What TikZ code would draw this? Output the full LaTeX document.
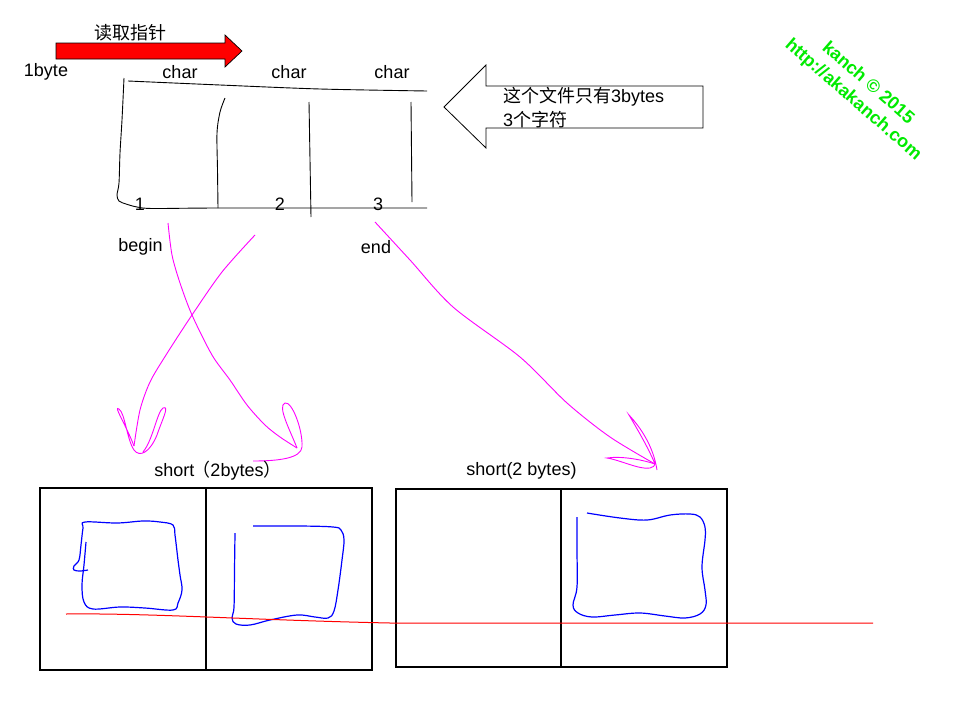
\documentclass[tikz,border=0pt]{standalone}
\usepackage{fontspec}
\setmainfont{Liberation Sans}
\newfontfamily\cjk{Noto Sans CJK SC}
\definecolor{mag}{RGB}{255,0,255}
\definecolor{wgreen}{RGB}{0,235,0}
\definecolor{bblue}{RGB}{0,0,255}
\begin{document}
\begin{tikzpicture}[x=1pt,y=-1pt,
  lbl/.style={inner sep=0pt, font=\fontsize{18}{21}\selectfont},
  hand/.style={line width=0.9pt, black},
  pink/.style={line width=0.9pt, mag},
  blob/.style={line width=1.2pt, bblue},
  cellbox/.style={line width=1.2pt, black},
  wm/.style={inner sep=0pt, text=wgreen, rotate=-41, font=\fontsize{18}{21}\selectfont\bfseries}]
\useasboundingbox (0,0) rectangle (960,720);
\fill[white] (0,0) rectangle (960,720);

% red arrow
\draw[fill=red, line width=0.7pt] (56,43) -- (225,43) -- (225,35) -- (242,51) -- (225,67) -- (225,59) -- (56,59) -- cycle;
\node[lbl] (read) at (130,33) {\cjk 读取指针};

% labels
\node[lbl] (byte) at (46,72) {1byte};
\node[lbl] (c1) at (180,72) {char};
\node[lbl] (c2) at (289,72) {char};
\node[lbl] (c3) at (392,72) {char};

% hand drawn table
\draw[hand] plot[smooth] coordinates {(124,78) (122,120) (120,153) (119,183) (117,195) (119,201) (126,204) (137,207) (153,208.5) (220,208) (427,208)};
\draw[hand] plot[smooth] coordinates {(128,81) (220,85) (320,89) (427,91)};
\draw[hand] plot[smooth] coordinates {(225,98) (220,112) (217,133) (217.5,170) (218,208)};
\draw[hand] (309,102) -- (311,217);
\draw[hand] (411,102) -- (412,202);

\node[lbl] (n1) at (140,204) {1};
\node[lbl] (n2) at (280,204) {2};
\node[lbl] (n3) at (378,204) {3};
\node[lbl] (begin) at (140.5,247) {begin};
\node[lbl] (end) at (376,247) {end};

% hollow left arrow
\draw[line width=0.8pt] (444,107) -- (486,65) -- (486,86) -- (703,86) -- (703,128) -- (486,128) -- (486,148) -- cycle;
\node[lbl, anchor=west] (note1) at (503,97) {{\cjk 这个文件只有}3bytes};
\node[lbl, anchor=west] (note2) at (503,120) {3{\cjk 个字符}};

% watermark
\node[wm] (wm1) at (869,82) {kanch © 2015};
\node[wm] (wm2) at (853,100) {http://akakanch.com};

% magenta arrows
\coordinate (a1) at (168,223);
\coordinate (a1t) at (297,448);
\draw[pink] plot[smooth] coordinates {(a1) (172,255) (180,283) (192,315) (212,355) (230,380) (247,405) (265,425) (280,437) (a1t)};
\draw[pink] (a1t) .. controls (290,430) and (277,406) .. (285,403) .. controls (292,401) and (303,430) .. (302,447) .. controls (301,458) and (280,461) .. (253,461);

\coordinate (a2) at (255,235);
\coordinate (a2t) at (134,446);
\draw[pink] plot[smooth] coordinates {(a2) (222,272) (192,315) (166,355) (150,382) (140,410) (a2t)};
\draw[pink] (a2t) .. controls (126,425) and (113,405) .. (119,409) .. controls (125,413) and (127,440) .. (134,450) .. controls (140,458) and (150,452) .. (157,435) .. controls (162,420) and (170,405) .. (163,408) .. controls (157,412) and (153,440) .. (143,452);

\coordinate (a3) at (375,222);
\coordinate (a3t) at (655,464);
\draw[pink] plot[smooth] coordinates {(a3) (410,260) (453,307) (520,357) (567,403) (610,437) (a3t)};
\draw[pink] (a3t) .. controls (648,447) and (636,427) .. (629,415) .. controls (640,427) and (653,445) .. (657,470);
\draw[pink] (a3t) .. controls (640,459) and (620,456) .. (607,458) .. controls (620,460) and (640,470) .. (650,468) .. controls (653,467) and (655,466) .. (a3t);

% short labels
\node[lbl] (s1) at (216,471) {short{\cjk \kern-2pt（}2bytes{\cjk ）\kern-4pt}};
\node[lbl] (s2) at (521.5,471) {short(2 bytes)};

% boxes
\draw[cellbox] (40,488) rectangle (372,670);
\draw[cellbox] (206,488) -- (206,670);
\draw[cellbox] (396,489) rectangle (727,667);
\draw[cellbox] (561,489) -- (561,667);

% blue blobs
\draw[blob] plot[smooth, tension=0.6] coordinates {(86,542) (84,565) (82,585) (84,602) (93,609) (120,607) (145,608) (173,610) (178,603) (182,590) (180,575) (178,560) (175,535) (173,525) (160,522) (143,521) (117,523) (85,522) (83,528) (81,545) (79,560) (74,566) (74,570) (80,571) (88,570)};
\draw[blob] plot[smooth, tension=0.6] coordinates {(235,533) (234.5,570) (234,607) (232,618) (236,624) (250,625) (270,620) (297,615) (315,617) (328,618) (334,611) (338,590) (342,560) (344,540) (341,530) (333,527) (300,526) (253,526)};
\draw[blob] plot[smooth, tension=0.6] coordinates {(577,517) (577,550) (577,587) (573,605) (578,613) (592,617) (615,615) (640,613) (665,616) (685,618) (700,614) (706,605) (705,590) (702,567) (705,540) (705,527) (700,517) (690,514) (670,515) (647,520) (620,518) (587,513)};

% red line
\draw[red, line width=1pt] (66,614) .. controls (150,613) and (250,620) .. (390,623) -- (873,623);
\end{tikzpicture}
\end{document}
